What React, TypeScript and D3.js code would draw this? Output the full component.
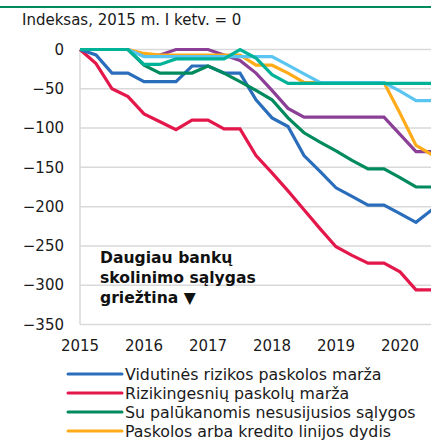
import React from 'react';
import * as d3 from 'd3';

// quarterly index, 2015 Q1 = 0
const quarters = d3.range(23);
const years = [2015, 2016, 2017, 2018, 2019, 2020];
const yTicks = [0, -50, -100, -150, -200, -250, -300, -350];

const blueVals = [0, -7, -30, -30, -41, -41, -41, -21, -21, -30, -30, -64, -87, -98, -135, -155, -176, -187, -198, -198, -209, -220, -204];
const redVals = [0, -18, -50, -60, -82, -92, -102, -90, -90, -101, -101, -135, -157, -180, -204, -228, -251, -262, -272, -272, -283, -306, -306];
const greenVals = [0, 0, 0, 0, -20, -30, -30, -30, -21, -30, -41, -52, -64, -87, -106, -118, -129, -141, -152, -152, -163, -175, -175];
const orangeVals = [0, 0, 0, 0, -5, -7, -7, -7, -7, -7, -7, -20, -20, -30, -42, -42, -42, -42, -42, -42, -81, -122, -134];
const purpleVals = [0, 0, 0, 0, -7, -7, 0, 0, 0, -7, -14, -30, -52, -75, -86, -86, -86, -86, -86, -86, -108, -130, -130];
const lightBlueVals = [0, 0, 0, 0, -9, -9, -9, -9, -9, -9, -9, -9, -9, -20, -31, -42, -42, -42, -42, -42, -53, -65, -65];
const tealVals = [0, 0, 0, 0, -19, -19, -12, -12, -12, -12, 0, -11, -32, -43, -43, -43, -43, -43, -43, -43, -43, -43, -43];

const series = [
  { name: 'Rizikingesnių paskolų marža', values: redVals, color: '#e4174b' },
  { name: 'Vidutinės rizikos paskolos marža', values: blueVals, color: '#2a6ebb' },
  { name: 'Su palūkanomis nesusijusios sąlygos', values: greenVals, color: '#008a5e' },
  { name: 'purple', values: purpleVals, color: '#8b3f96' },
  { name: 'Paskolos arba kredito linijos dydis', values: orangeVals, color: '#ffab1a' },
  { name: 'lightblue', values: lightBlueVals, color: '#5bc5f2' },
  { name: 'teal', values: tealVals, color: '#00b398' },
];

const legendItems = [
  { name: 'Vidutinės rizikos paskolos marža', color: '#2a6ebb' },
  { name: 'Rizikingesnių paskolų marža', color: '#e4174b' },
  { name: 'Su palūkanomis nesusijusios sąlygos', color: '#008a5e' },
  { name: 'Paskolos arba kredito linijos dydis', color: '#ffab1a' },
];

const font = 'Verdana, "DejaVu Sans", sans-serif';

export default function App() {
  const width = 431;
  const height = 441;

  const x = d3.scaleLinear().domain([0, 22]).range([80, 432]);
  const y = d3.scaleLinear().domain([0, -350]).range([49.5, 324.5]);

  const line = d3.line<number>()
    .x((d, i) => x(quarters[i]))
    .y((d) => y(d));

  return (
    <svg width={width} height={height} style={{ position: 'absolute', left: 0, top: 0 }}>
      <line x1={0} x2={width} y1={7} y2={7} stroke="#008a5e" strokeWidth={2} />
      <text x={22} y={25} fontFamily={font} fontSize={15} fill="#1a1a1a">Indeksas, 2015 m. I ketv. = 0</text>

      {yTicks.map((t) => (
        <g key={t}>
          <line x1={80} x2={width} y1={y(t)} y2={y(t)} stroke="#d9d9d9" strokeWidth={1.5} />
          <text x={64} y={y(t)} dy="0.35em" textAnchor="end" fontFamily={font} fontSize={15} fill="#1a1a1a">
            {t === 0 ? '0' : '−' + Math.abs(t)}
          </text>
        </g>
      ))}
      <line x1={80} x2={80} y1={y(0)} y2={y(-350)} stroke="#d9d9d9" strokeWidth={1.5} />

      {years.map((yr, i) => (
        <text key={yr} x={x(i * 4)} y={351} textAnchor="middle" fontFamily={font} fontSize={15} fill="#1a1a1a">{yr}</text>
      ))}

      {series.map((s) => (
        <path key={s.name} d={line(s.values) || ''} fill="none" stroke={s.color} strokeWidth={3.2} strokeLinejoin="miter" />
      ))}

      <text fontFamily={font} fontSize={15.6} fontWeight="bold" fill="#111">
        <tspan x={100} y={263}>Daugiau bankų</tspan>
        <tspan x={100} y={283}>skolinimo sąlygas</tspan>
        <tspan x={100} y={303}>griežtina ▼</tspan>
      </text>

      {legendItems.map((l, i) => (
        <g key={l.name} transform={`translate(0, ${374 + i * 19})`}>
          <line x1={68} x2={122} y1={0} y2={0} stroke={l.color} strokeWidth={3} strokeLinecap="round" />
          <text x={125} y={0} dy="0.35em" fontFamily={font} fontSize={15.8} fill="#1a1a1a">{l.name}</text>
        </g>
      ))}
    </svg>
  );
}
